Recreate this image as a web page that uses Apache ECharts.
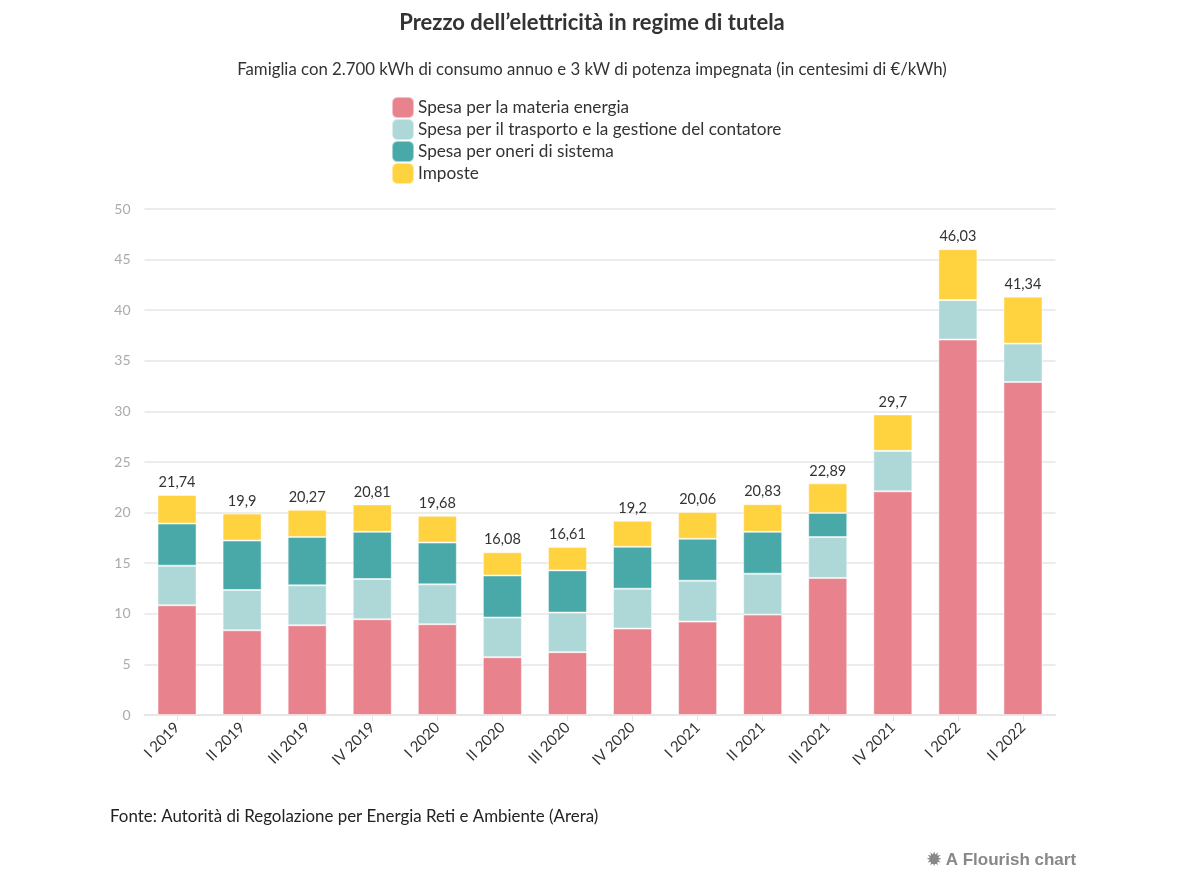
<!DOCTYPE html>
<html>
<head>
<meta charset="utf-8">
<script src="https://cdn.jsdelivr.net/npm/echarts@6/dist/echarts.min.js"></script>
<style>
html,body{margin:0;padding:0;background:#fff;}
#chart{width:1184px;height:896px;}
</style>
</head>
<body>
<div id="chart"></div>
<script>
const categories = ['I 2019','II 2019','III 2019','IV 2019','I 2020','II 2020','III 2020','IV 2020','I 2021','II 2021','III 2021','IV 2021','I 2022','II 2022'];
const energia   = [10.84, 8.37, 8.87, 9.46, 8.97, 5.71, 6.21, 8.54, 9.23, 9.92, 13.54, 22.1, 37.1, 32.9];
const trasporto = [3.91, 3.98, 3.94, 3.98, 3.94, 3.92, 3.91, 3.94, 4.04, 4.04, 4.04, 4.0, 3.9, 3.8];
const oneri     = [4.17, 4.89, 4.79, 4.66, 4.13, 4.16, 4.17, 4.14, 4.14, 4.14, 2.39, 0, 0, 0];
const imposte   = [2.82, 2.66, 2.67, 2.71, 2.64, 2.29, 2.32, 2.58, 2.65, 2.73, 2.92, 3.6, 5.03, 4.64];
const totals    = [21.74, 19.9, 20.27, 20.81, 19.68, 16.08, 16.61, 19.2, 20.06, 20.83, 22.89, 29.7, 46.03, 41.34];
const yTicks    = [0, 5, 10, 15, 20, 25, 30, 35, 40, 45, 50];

const FONT = 'Lato, "Open Sans", sans-serif';
const chart = echarts.init(document.getElementById('chart'));

function mk(name, data, color, withLabel) {
  const s = {
    name: name, type: 'bar', stack: 'tot', data: data, barWidth: '60%',
    itemStyle: { color: color, borderColor: 'rgba(255,255,255,0.5)', borderWidth: 1 },
    emphasis: { disabled: true }
  };
  if (withLabel) {
    s.label = {
      show: true, position: 'top', distance: 5, color: '#333', fontSize: 14.5, fontFamily: FONT,
      formatter: p => String(totals[p.dataIndex]).replace('.', ',')
    };
  }
  return s;
}

chart.setOption({
  animation: false,
  textStyle: { fontFamily: FONT },
  title: [
    { text: 'Prezzo dell\u2019elettricità in regime di tutela', left: 'center', top: 7,
      textStyle: { fontSize: 22, fontWeight: 'bold', color: '#333', fontFamily: FONT } },
    { text: 'Famiglia con 2.700 kWh di consumo annuo e 3 kW di potenza impegnata (in centesimi di €/kWh)', left: 'center', top: 56,
      textStyle: { fontSize: 16.8, fontWeight: 'normal', color: '#333', fontFamily: FONT } },
    { text: 'Fonte: Autorità di Regolazione per Energia Reti e Ambiente (Arera)', left: 105, top: 803,
      textStyle: { fontSize: 16.9, fontWeight: 'normal', color: '#222', fontFamily: FONT } }
  ],
  legend: {
    orient: 'vertical', left: 391, top: 96, itemWidth: 22, itemHeight: 21, itemGap: -1, padding: 0,
    icon: 'roundRect', selectedMode: false,
    textStyle: { fontSize: 17.2, color: '#333', fontFamily: FONT, padding: [0, 0, 0, -1] },
    data: ['Spesa per la materia energia', 'Spesa per il trasporto e la gestione del contatore', 'Spesa per oneri di sistema', 'Imposte']
  },
  grid: { left: 144.5, right: 128.5, top: 209, bottom: 181, containLabel: false },
  xAxis: {
    type: 'category', data: categories,
    axisLine: { show: true, lineStyle: { color: '#e6e6e6', width: 2 } },
    axisTick: { show: true, alignWithLabel: true, length: 6, lineStyle: { color: '#e6e6e6', width: 1 } },
    axisLabel: { rotate: 45, color: '#333', fontSize: 15, fontFamily: FONT, margin: 10, interval: 0 }
  },
  yAxis: {
    type: 'value', min: 0, max: 50, interval: 5,
    axisLine: { show: false }, axisTick: { show: false },
    splitLine: { lineStyle: { color: '#ececec', width: 2 } },
    axisLabel: { color: '#aaa', fontSize: 14, fontFamily: FONT, margin: 14,
      formatter: v => yTicks.includes(v) ? String(v) : '' }
  },
  series: [
    mk('Spesa per la materia energia', energia, '#e8828c', false),
    mk('Spesa per il trasporto e la gestione del contatore', trasporto, '#aed8d7', false),
    mk('Spesa per oneri di sistema', oneri, '#48a9a8', false),
    mk('Imposte', imposte, '#ffd23f', true)
  ],
  graphic: [
    { type: 'text', left: 927, top: 852,
      style: { text: '\u2739 A Flourish chart', fill: '#888', font: 'bold 17px "Liberation Sans", Arial, sans-serif' } }
  ]
});
</script>
</body>
</html>
